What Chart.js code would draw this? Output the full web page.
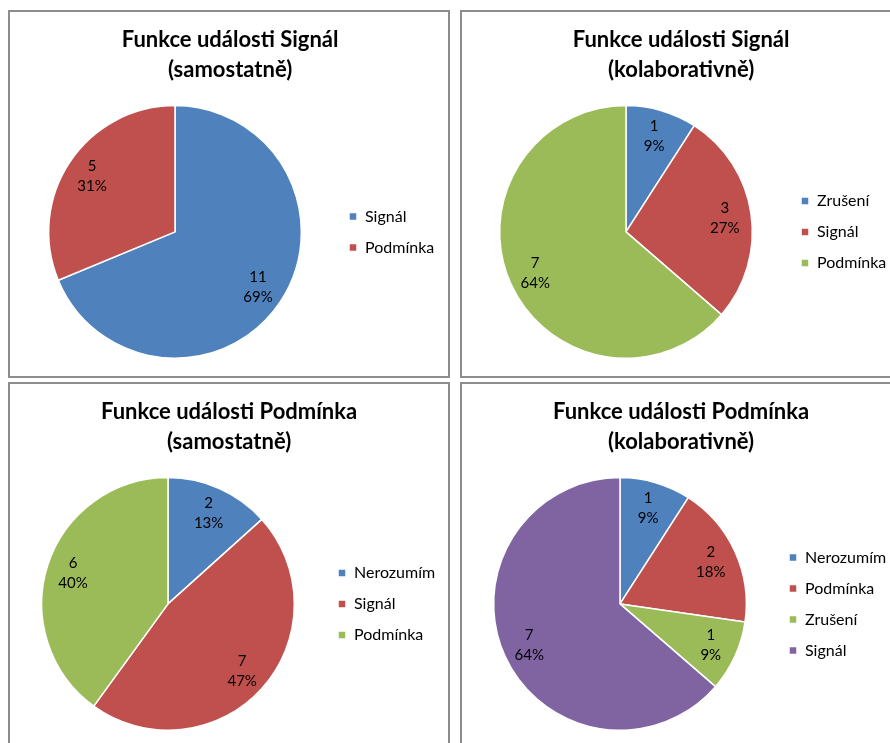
<!DOCTYPE html>
<html>
<head>
<meta charset="utf-8">
<script src="https://cdn.jsdelivr.net/npm/chart.js@4.4.1/dist/chart.umd.min.js"></script>
<style>
  html, body { margin: 0; padding: 0; background: #fff; }
  body { width: 890px; height: 743px; position: relative; overflow: hidden; }
  .panel { position: absolute; width: 442px; height: 368px; border: 2px solid #8c8c8c; box-sizing: border-box; background: #fff; }
  .panel canvas { display: block; }
</style>
</head>
<body>
<div class="panel" style="left:8px;top:10px"><canvas id="c1" width="438" height="364"></canvas></div>
<div class="panel" style="left:460px;top:10px"><canvas id="c2" width="438" height="364"></canvas></div>
<div class="panel" style="left:8px;top:382px"><canvas id="c3" width="438" height="364"></canvas></div>
<div class="panel" style="left:460px;top:382px"><canvas id="c4" width="438" height="364"></canvas></div>
<script>
// --- data ---
const signalSamoTitle = ["Funkce události Signál", "(samostatně)"];
const signalSamoLabels = ["Signál", "Podmínka"];
const signalSamoValues = [11, 5];

const signalKolabTitle = ["Funkce události Signál", "(kolaborativně)"];
const signalKolabLabels = ["Zrušení", "Signál", "Podmínka"];
const signalKolabValues = [1, 3, 7];

const podminkaSamoTitle = ["Funkce události Podmínka", "(samostatně)"];
const podminkaSamoLabels = ["Nerozumím", "Signál", "Podmínka"];
const podminkaSamoValues = [2, 7, 6];

const podminkaKolabTitle = ["Funkce události Podmínka", "(kolaborativně)"];
const podminkaKolabLabels = ["Nerozumím", "Podmínka", "Zrušení", "Signál"];
const podminkaKolabValues = [1, 2, 1, 7];

// Excel-like series colours, assigned by slice order
const palette = ["#4f81bd", "#c0504d", "#9bbb59", "#8064a2"];
const FONT = "Lato, 'Open Sans', sans-serif";
const LEGEND_PAD = 15;

// value + percentage label inside each slice
const sliceLabels = {
  id: "sliceLabels",
  afterDatasetsDraw(chart) {
    const ctx = chart.ctx;
    const ds = chart.data.datasets[0];
    const total = ds.data.reduce((a, b) => a + b, 0);
    const meta = chart.getDatasetMeta(0);
    ctx.save();
    ctx.font = "15px " + FONT;
    ctx.fillStyle = "#000";
    ctx.textAlign = "center";
    ctx.textBaseline = "middle";
    meta.data.forEach((arc, i) => {
      const p = arc.getProps(["x", "y", "startAngle", "endAngle", "outerRadius"], true);
      const mid = (p.startAngle + p.endAngle) / 2;
      const r = p.outerRadius * 0.79;
      const x = p.x + Math.cos(mid) * r;
      const y = p.y + Math.sin(mid) * r;
      ctx.fillText(String(ds.data[i]), x, y - 10);
      ctx.fillText(Math.round(ds.data[i] / total * 100) + "%", x, y + 10);
    });
    ctx.restore();
  }
};

// cx = pie centre, legendX = left of the legend swatches (canvas px)
function makePie(id, title, labels, values, cx, legendX) {
  const canvas = document.getElementById(id);
  const chart = new Chart(canvas, {
    type: "pie",
    data: {
      labels: labels,
      datasets: [{
        data: values,
        backgroundColor: palette.slice(0, values.length),
        borderColor: "#fff",
        borderWidth: 1.5
      }]
    },
    options: {
      responsive: false,
      animation: false,
      layout: { padding: { left: 0, right: 0, top: 0, bottom: 17 } },
      plugins: {
        title: {
          display: true,
          text: title,
          color: "#000",
          font: { family: FONT, size: 22, weight: "bold", lineHeight: 1.36 },
          padding: { top: 13, bottom: 20 }
        },
        legend: {
          position: "right",
          fullSize: false,
          labels: {
            boxWidth: 8,
            boxHeight: 8,
            padding: LEGEND_PAD,
            color: "#000",
            font: { family: FONT, size: 16 }
          }
        },
        tooltip: { enabled: false }
      }
    },
    plugins: [sliceLabels]
  });
  // second pass: place chart area / legend so the pie centre lands at cx
  const lw = chart.legend.width;
  const areaRight = legendX - LEGEND_PAD;
  chart.options.layout.padding.left = Math.max(0, 2 * cx - areaRight);
  chart.options.layout.padding.right = Math.max(0, canvas.width - areaRight - lw);
  chart.update();
  return chart;
}

makePie("c1", signalSamoTitle, signalSamoLabels, signalSamoValues, 165, 339);
makePie("c2", signalKolabTitle, signalKolabLabels, signalKolabValues, 164, 339);
makePie("c3", podminkaSamoTitle, podminkaSamoLabels, podminkaSamoValues, 158, 328);
makePie("c4", podminkaKolabTitle, podminkaKolabLabels, podminkaKolabValues, 158, 327);
</script>
</body>
</html>
